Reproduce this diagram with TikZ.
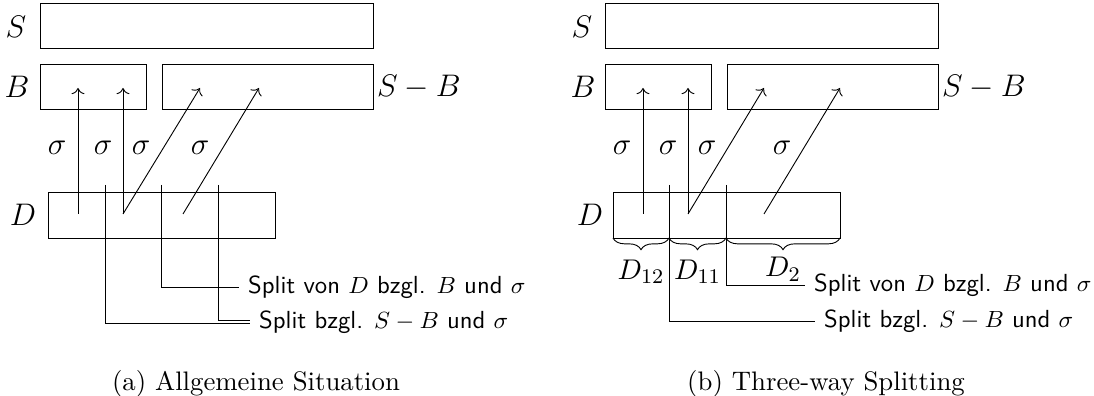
\documentclass[tikz,border=0pt]{standalone}
\usepackage{amsmath, amssymb}
\usepackage{tikz}
\usetikzlibrary{positioning, arrows.meta, calc, fit, decorations.pathreplacing}

\begin{document}
\begin{tikzpicture}[
  x=0.3846pt, y=-0.3846pt,
  setbox/.style={draw, inner sep=0pt},
  setlbl/.style={font=\fontsize{11.5}{13.8}\selectfont, inner sep=0pt},
  sig/.style={font=\fontsize{11.5}{13.8}\selectfont, inner sep=0pt},
  map/.style={->, line width=0.35pt},
  cut/.style={line width=0.35pt},
  note/.style={font=\fontsize{9.5}{11.4}\selectfont\sffamily, anchor=west},
  part/.style={font=\fontsize{10.8}{13}\selectfont},
  brc/.style={decorate, decoration={brace, mirror, amplitude=4.5pt}},
  captxt/.style={font=\fontsize{10.3}{12.4}\selectfont},
  every path/.style={line width=0.35pt},
]
  \useasboundingbox (0,0) rectangle (1094,396);

  % (a) Allgemeine Situation
  \node[setbox, fit={(40,3) (373,48)}] (aS) {};
  \node[setbox, fit={(40,64) (146,109)}] (aB) {};
  \node[setbox, fit={(162,64) (373,109)}] (aSB) {};
  \node[setbox, fit={(48,192) (275,238)}] (aD) {};
  \node[setlbl] (aSl) at (16,27) {$S$};
  \node[setlbl] (aBl) at (17,87) {$B$};
  \node[setlbl] (aSBl) at (419,87) {$S-B$};
  \node[setlbl] (aDl) at (23,215) {$D$};

  \coordinate (aq1) at (78,214);  \coordinate (ap1) at (78,88);
  \coordinate (aq2) at (123,214); \coordinate (ap2) at (123,88);
  \coordinate (aq3) at (123,214); \coordinate (ap3) at (200,88);
  \coordinate (aq4) at (183,214); \coordinate (ap4) at (259,88);
  \foreach \i in {1,2,3,4} { \draw[map] (aq\i) -- (ap\i); }
  \foreach \x/\n in {57/1, 103/2, 141/3, 200/4} { \node[sig] (as\n) at (\x,148) {$\sigma$}; }

  % splits
  \coordinate (ac1) at (105,185);
  \coordinate (ac2) at (161,185);
  \coordinate (ac3) at (218,185);
  \node[note] (an1) at (239,287) {Split von $D$ bzgl. $B$ und $\sigma$};
  \node[note] (an2) at (250,322) {Split bzgl. $S-B$ und $\sigma$};
  \draw[cut] (ac2) |- (an1.west);
  \draw[cut] (ac1) |- ([yshift=-0.6pt]an2.west);
  \draw[cut] (ac3) |- ([yshift=0.6pt]an2.west);

  \node[captxt] (acap) at (256,384) {(a) Allgemeine Situation};

  % (b) Three-way Splitting
  \node[setbox, fit={(605,3) (938,48)}] (bS) {};
  \node[setbox, fit={(605,64) (711,109)}] (bB) {};
  \node[setbox, fit={(727,64) (938,109)}] (bSB) {};
  \node[setbox, fit={(613,192) (840,238)}] (bD) {};
  \node[setlbl] (bSl) at (582,27) {$S$};
  \node[setlbl] (bBl) at (583,87) {$B$};
  \node[setlbl] (bSBl) at (984,87) {$S-B$};
  \node[setlbl] (bDl) at (590,215) {$D$};

  \coordinate (bq1) at (643,214); \coordinate (bp1) at (643,88);
  \coordinate (bq2) at (688,214); \coordinate (bp2) at (688,88);
  \coordinate (bq3) at (688,214); \coordinate (bp3) at (764,88);
  \coordinate (bq4) at (764,214); \coordinate (bp4) at (840,88);
  \foreach \i in {1,2,3,4} { \draw[map] (bq\i) -- (bp\i); }
  \foreach \x/\n in {622/1, 668/2, 707/3, 782/4} { \node[sig] (bs\n) at (\x,148) {$\sigma$}; }

  % parts of D
  \coordinate (bc0) at (613,238);
  \coordinate (bc1) at (669,238);
  \coordinate (bc2) at (726,238);
  \coordinate (bc3) at (840,238);
  \draw[brc] (bc0) -- (bc1) node[part, midway, below=5pt] (bd12) {$D_{12}$};
  \draw[brc] (bc1) -- (bc2) node[part, midway, below=5pt] (bd11) {$D_{11}$};
  \draw[brc] (bc2) -- (bc3) node[part, midway, below=4pt] (bd2) {$D_{2}$};

  \coordinate (bt1) at (669,185);
  \coordinate (bt2) at (726,185);
  \node[note] (bn1) at (805,285) {Split von $D$ bzgl. $B$ und $\sigma$};
  \node[note] (bn2) at (815,321) {Split bzgl. $S-B$ und $\sigma$};
  \draw[cut] (bt2) |- (bn1.west);
  \draw[cut] (bt1) |- (bn2.west);

  \node[captxt] (bcap) at (826,384) {(b) Three-way Splitting};
\end{tikzpicture}
\end{document}
